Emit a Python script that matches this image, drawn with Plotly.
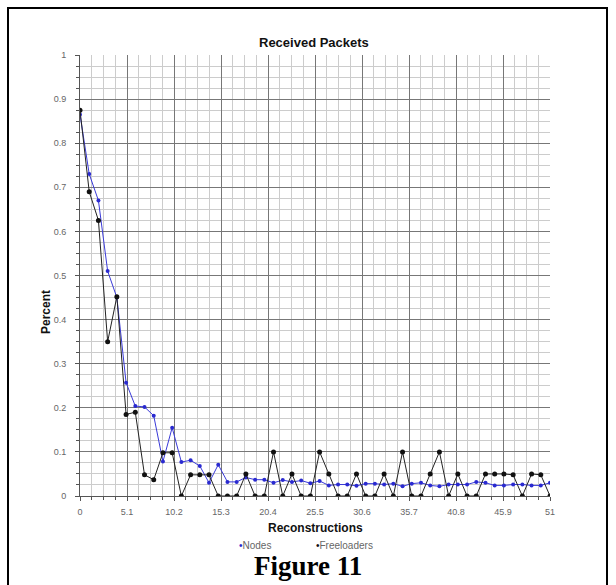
import plotly.graph_objects as go

reconstructions = list(range(52))
nodes = [0.865, 0.73, 0.67, 0.51, 0.45, 0.257, 0.204, 0.202, 0.182, 0.078,
         0.155, 0.077, 0.081, 0.068, 0.03, 0.071, 0.032, 0.032, 0.042, 0.037,
         0.037, 0.03, 0.036, 0.032, 0.035, 0.029, 0.034, 0.024, 0.026, 0.026,
         0.023, 0.028, 0.028, 0.026, 0.028, 0.022, 0.028, 0.03, 0.024, 0.022,
         0.026, 0.026, 0.026, 0.032, 0.03, 0.024, 0.024, 0.026, 0.026, 0.024,
         0.024, 0.03]
freeloaders = [0.875, 0.69, 0.625, 0.35, 0.452, 0.185, 0.19, 0.048, 0.037, 0.098,
               0.098, 0.0, 0.048, 0.048, 0.048, 0.0, 0.0, 0.0, 0.05, 0.0,
               0.0, 0.1, 0.0, 0.05, 0.0, 0.0, 0.1, 0.05, 0.0, 0.0,
               0.05, 0.0, 0.0, 0.05, 0.0, 0.1, 0.0, 0.0, 0.05, 0.1,
               0.0, 0.05, 0.0, 0.0, 0.05, 0.05, 0.05, 0.048, 0.0, 0.05,
               0.048, 0.0]
x_tickvals = [0, 5.1, 10.2, 15.3, 20.4, 25.5, 30.6, 35.7, 40.8, 45.9, 51]
x_ticktext = ["0", "5.1", "10.2", "15.3", "20.4", "25.5", "30.6", "35.7", "40.8", "45.9", "51"]
y_tickvals = [0, 0.1, 0.2, 0.3, 0.4, 0.5, 0.6, 0.7, 0.8, 0.9, 1]
y_ticktext = ["0", "0.1", "0.2", "0.3", "0.4", "0.5", "0.6", "0.7", "0.8", "0.9", "1"]

W, H = 616, 585
L, R, T, B = 80, 66, 55, 89
PW, PH = W - L - R, H - T - B


def px(x):
    return (x - L) / PW


def py(y):
    return (H - B - y) / PH


fig = go.Figure()
fig.add_trace(go.Scatter(x=reconstructions, y=nodes, mode="lines+markers",
                         line=dict(color="#3a3ad8", width=1),
                         marker=dict(color="#2a2ad0", size=4),
                         name="Nodes", showlegend=False))
fig.add_trace(go.Scatter(x=reconstructions, y=freeloaders, mode="lines+markers",
                         line=dict(color="#222222", width=1),
                         marker=dict(color="#111111", size=5, symbol="circle"),
                         name="Freeloaders", showlegend=False))

tickfont = dict(family="Liberation Sans", size=9, color="#666666")
fig.update_xaxes(range=[0, 51], tickmode="array", tickvals=x_tickvals, ticktext=x_ticktext,
                 showgrid=True, gridcolor="#777777", gridwidth=1,
                 showline=True, linecolor="#555555", linewidth=1,
                 ticks="outside", ticklen=4, tickcolor="#555555", tickfont=tickfont,
                 ticklabelstandoff=3,
                 minor=dict(dtick=1.275, tick0=0, showgrid=True, gridcolor="#cccccc",
                            ticks="outside", ticklen=3, tickcolor="#555555"),
                 zeroline=False, mirror=False)
fig.update_yaxes(range=[0, 1], tickmode="array", tickvals=y_tickvals, ticktext=y_ticktext,
                 showgrid=True, gridcolor="#777777", gridwidth=1,
                 showline=True, linecolor="#555555", linewidth=1,
                 ticks="outside", ticklen=4, tickcolor="#555555", tickfont=tickfont,
                 ticklabelstandoff=7,
                 minor=dict(dtick=0.025, tick0=0, showgrid=True, gridcolor="#cccccc",
                            ticks="outside", ticklen=3, tickcolor="#555555"),
                 zeroline=False)

ann = []
ann.append(dict(x=px(314), y=py(43), xref="paper", yref="paper", text="<b>Received Packets</b>",
                showarrow=False, font=dict(family="Liberation Sans", size=13, color="#111111"),
                xanchor="center", yanchor="middle"))
ann.append(dict(x=px(46), y=py(312), xref="paper", yref="paper", text="<b>Percent</b>",
                showarrow=False, font=dict(family="Liberation Sans", size=12, color="#111111"),
                textangle=-90, xanchor="center", yanchor="middle"))
ann.append(dict(x=px(315), y=py(528), xref="paper", yref="paper", text="<b>Reconstructions</b>",
                showarrow=False, font=dict(family="Liberation Sans", size=12, color="#111111"),
                xanchor="center", yanchor="middle"))
legfont = dict(family="Liberation Sans", size=10, color="#666666")
ann.append(dict(x=px(237), y=py(545), xref="paper", yref="paper",
                text='<span style="color:#2a2ad0">•</span>Nodes',
                showarrow=False, font=legfont, xanchor="left", yanchor="middle"))
ann.append(dict(x=px(314), y=py(545), xref="paper", yref="paper",
                text='<span style="color:#111111">•</span>Freeloaders',
                showarrow=False, font=legfont, xanchor="left", yanchor="middle"))
ann.append(dict(x=px(308), y=py(566), xref="paper", yref="paper", text="<b>Figure 11</b>",
                showarrow=False, font=dict(family="Liberation Serif", size=27, color="#000000"),
                xanchor="center", yanchor="middle"))

fig.update_layout(
    width=W, height=H, margin=dict(l=L, r=R, t=T, b=B),
    paper_bgcolor="white", plot_bgcolor="white",
    annotations=ann,
    shapes=[dict(type="rect", xref="paper", yref="paper",
                 x0=px(8), x1=px(607), y0=py(600), y1=py(8),
                 line=dict(color="black", width=2), fillcolor="rgba(0,0,0,0)", layer="above")],
)

fig.write_html("out.html")
